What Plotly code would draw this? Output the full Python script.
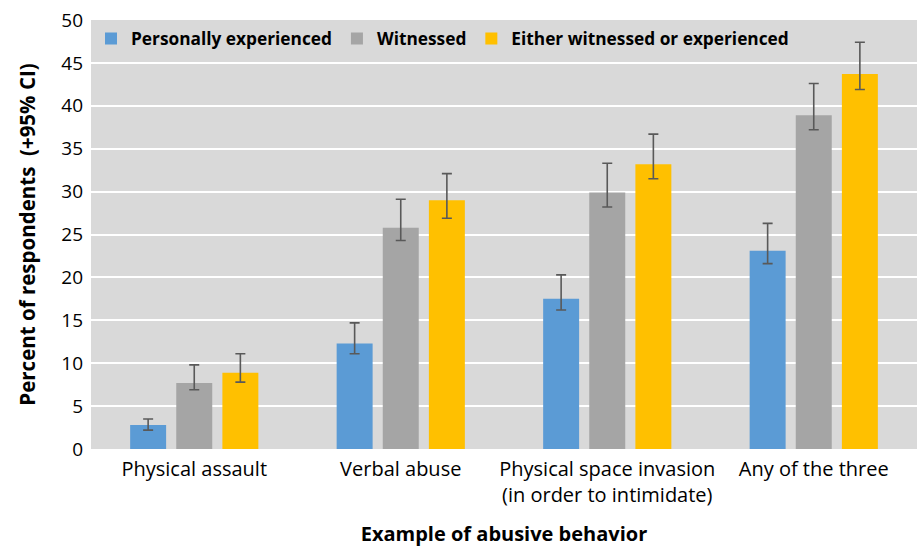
import plotly.graph_objects as go

categories = ["Physical assault", "Verbal abuse",
              "Physical space invasion<br>(in order to intimidate)", "Any of the three"]
series_names = ["Personally experienced", "Witnessed", "Either witnessed or experienced"]

personal = [2.8, 12.3, 17.5, 23.1]
personal_hi = [3.5, 14.7, 20.3, 26.3]
personal_lo = [2.2, 11.1, 16.2, 21.6]

witnessed = [7.7, 25.8, 29.9, 38.9]
witnessed_hi = [9.8, 29.1, 33.3, 42.6]
witnessed_lo = [6.9, 24.3, 28.2, 37.2]

either = [8.9, 29.0, 33.2, 43.7]
either_hi = [11.1, 32.1, 36.7, 47.4]
either_lo = [7.8, 26.9, 31.5, 41.9]

colors = ["#5b9bd5", "#a5a5a5", "#ffc000"]
FONT = "Open Sans"

fig = go.Figure()
for name, vals, hi, lo, col in [
    (series_names[0], personal, personal_hi, personal_lo, colors[0]),
    (series_names[1], witnessed, witnessed_hi, witnessed_lo, colors[1]),
    (series_names[2], either, either_hi, either_lo, colors[2]),
]:
    fig.add_trace(go.Bar(
        x=categories, y=vals, name="<b>" + name + "</b>", marker_color=col, marker_line_width=0,
        error_y=dict(type="data", symmetric=False,
                     array=[h - v for h, v in zip(hi, vals)],
                     arrayminus=[v - l for v, l in zip(vals, lo)],
                     color="#595959", thickness=1.6, width=5),
    ))

fig.update_layout(
    width=917, height=547,
    margin=dict(l=91, r=0, t=20, b=98),
    paper_bgcolor="white", plot_bgcolor="#d9d9d9",
    barmode="group", bargap=0.33, bargroupgap=0.22,
    font=dict(family=FONT, size=18, color="#000000"),
    legend=dict(orientation="h", x=0.0, y=0.998, xanchor="left", yanchor="top",
                bgcolor="rgba(0,0,0,0)", font=dict(family=FONT, size=17.3, color="#000000"),
                itemwidth=30, traceorder="normal", tracegroupgap=0),
    showlegend=True,
)
fig.update_yaxes(range=[0, 50], dtick=5, gridcolor="white", gridwidth=2,
                 zeroline=False, showline=False, ticks="", ticklabelstandoff=7,
                 tickfont=dict(family=FONT, size=19, color="#000000"),
                 title=dict(text="<b>Percent of respondents  (+95% CI)</b>",
                            font=dict(family=FONT, size=20.5, color="#000000"), standoff=20))
fig.update_xaxes(showgrid=False, ticks="", showline=False, ticklabelstandoff=6,
                 tickfont=dict(family=FONT, size=20, color="#000000"),
                 title=dict(text="<b>Example of abusive behavior</b>",
                            font=dict(family=FONT, size=20, color="#000000"), standoff=24))

fig.write_html("out.html")
